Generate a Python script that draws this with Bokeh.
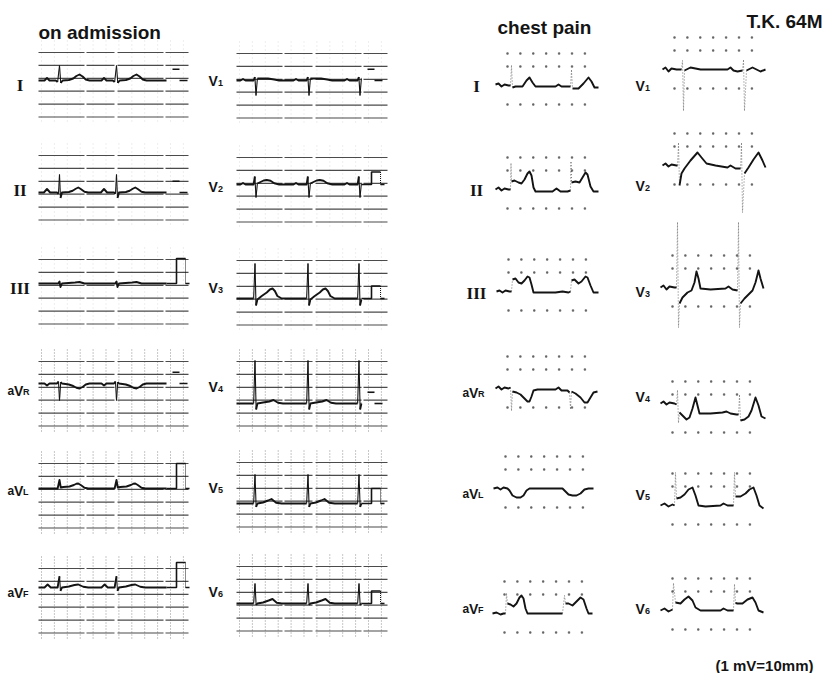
import numpy as np
from bokeh.plotting import figure
from bokeh.models import Range1d
from bokeh.core.properties import value
from bokeh.embed import file_html
from bokeh.resources import INLINE

# ------------------------------------------------------------------ data
TITLE_LEFT = "on admission"
TITLE_RIGHT = "chest pain"
PATIENT = "T.K. 64M"
CAL_NOTE = "(1 mV=10mm)"

LIMB_LEADS = ["I", "II", "III", "aVR", "aVL", "aVF"]
CHEST_LEADS = ["V1", "V2", "V3", "V4", "V5", "V6"]

# On admission: one beat per lead (ms from R peak, mV)
ADM_I_T = [-300, -240, -200, -160, -60, -30, 0, 20, 50, 150, 220, 270, 320, 370, 420, 480]
ADM_I_MV = [0, 0, 0.1, 0, 0, -0.06, 0.6, -0.1, 0, 0.02, 0.08, 0.18, 0.24, 0.16, 0.04, 0]
ADM_II_T = [-300, -250, -200, -150, -40, -16, 0, 16, 40, 150, 210, 260, 300, 340, 400, 460]
ADM_II_MV = [0, 0, 0.14, 0, 0, -0.05, 0.72, -0.22, 0, 0.02, 0.07, 0.15, 0.2, 0.14, 0.03, 0]
ADM_III_T = [-300, -20, 0, 16, 40, 250, 320, 400]
ADM_III_MV = [0, 0, 0.08, -0.14, 0, 0.04, 0.06, 0]
ADM_AVR_T = [-300, -240, -200, -160, -40, -16, 0, 20, 40, 150, 220, 270, 320, 370, 420, 480]
ADM_AVR_MV = [0, 0, -0.08, 0, 0, 0.08, -0.68, 0.06, 0, -0.04, -0.1, -0.17, -0.2, -0.14, -0.04, 0]
ADM_AVL_T = [-300, -30, 0, 20, 60, 160, 230, 270, 300, 340, 400, 460]
ADM_AVL_MV = [0, 0, 0.34, 0.04, 0.06, 0.08, 0.14, 0.19, 0.2, 0.14, 0.03, 0]
ADM_AVF_T = [-300, -240, -190, -140, -30, 0, 16, 40, 150, 240, 300, 380, 460]
ADM_AVF_MV = [0, 0, 0.12, 0, 0, 0.45, -0.14, 0, 0.04, 0.1, 0.12, 0.03, 0]
ADM_V1_T = [-300, -240, -200, -160, -30, -10, 8, 30, 80, 200, 300, 380]
ADM_V1_MV = [0, 0, 0.06, 0, 0, 0.14, -0.6, 0.08, 0.08, 0.08, 0.04, 0]
ADM_V2_T = [-300, -240, -200, -160, -30, -10, 8, 30, 80, 130, 180, 240, 300, 380]
ADM_V2_MV = [0, 0, 0.06, 0, 0, 0.32, -0.52, 0.04, 0.1, 0.16, 0.18, 0.15, 0.05, 0]
ADM_V3_T = [-300, -30, -8, 8, 30, 100, 180, 230, 272, 310, 350, 420]
ADM_V3_MV = [0, 0, 1.4, -0.28, -0.04, 0.1, 0.24, 0.36, 0.4, 0.3, 0.1, 0]
ADM_V4_T = [-300, -30, -8, 10, 30, 120, 220, 288, 360, 440]
ADM_V4_MV = [0, 0, 1.72, -0.24, 0, 0.04, 0.08, 0.14, 0.03, 0]
ADM_V5_T = [-300, -30, -8, 10, 30, 120, 200, 256, 330, 420]
ADM_V5_MV = [0, 0, 1.16, -0.14, 0, 0.04, 0.12, 0.18, 0.03, 0]
ADM_V6_T = [-300, -30, -8, 10, 30, 120, 210, 272, 340, 420]
ADM_V6_MV = [0, 0, 0.8, -0.06, 0, 0.04, 0.12, 0.18, 0.03, 0]

ADM_LIMB_R_MS = [336, 1248]
ADM_CHEST_R_MS = [304, 1152, 1968]
ADM_LIMB_END_MS = 2048
ADM_CHEST_END_MS = 2000
ADM_LIMB_CAL_MV = [0, 0, 1.0, 0, 1.0, 1.0]
ADM_CHEST_CAL_MV = [0, 0.5, 0.5, 0, 0.6, 0.5]

# Chest pain: whole strips (ms from strip start, mV)
PAIN_I_T = [0, 48, 96, 144, 208, 240, 256, 272, 320, 432, 496, 544, 592, 640, 960, 1008, 1056, 1200, 1216, 1232, 1328, 1408, 1488, 1536, 1584, 1648]
PAIN_I_MV = [0.04, 0.08, -0.04, 0.04, 0, 0, 0.8, -0.08, -0.04, -0.04, 0.2, 0.32, 0.12, -0.04, -0.04, 0.04, -0.04, -0.04, 0.6, -0.12, -0.12, 0.08, 0.32, 0.16, -0.08, -0.08]
PAIN_II_T = [0, 48, 96, 144, 208, 240, 248, 256, 304, 368, 416, 464, 512, 544, 576, 608, 640, 800, 912, 976, 1040, 1152, 1200, 1208, 1216, 1280, 1344, 1392, 1440, 1472, 1520, 1568, 1648]
PAIN_II_MV = [0, 0.08, -0.04, 0.04, 0, 0, 1.04, 0.32, 0.36, 0.28, 0.24, 0.4, 0.64, 0.72, 0.56, 0.08, -0.08, -0.08, -0.08, 0.04, -0.08, -0.08, -0.04, 1.1, 0.28, 0.32, 0.28, 0.48, 0.68, 0.6, 0.12, -0.08, -0.08]
PAIN_III_T = [0, 48, 96, 144, 208, 240, 256, 304, 352, 400, 448, 496, 528, 560, 592, 704, 944, 1056, 1152, 1184, 1200, 1248, 1312, 1360, 1424, 1456, 1504, 1552, 1632]
PAIN_III_MV = [0, 0.04, -0.04, 0.04, 0, 0, 0.48, 0.52, 0.36, 0.32, 0.44, 0.6, 0.56, 0.28, -0.04, -0.04, -0.04, 0, -0.04, 0, 0.44, 0.48, 0.32, 0.4, 0.6, 0.56, 0.24, -0.04, -0.04]
PAIN_AVR_T = [0, 48, 96, 144, 208, 240, 256, 272, 336, 400, 464, 512, 544, 576, 608, 672, 960, 1008, 1056, 1152, 1184, 1200, 1216, 1280, 1360, 1424, 1472, 1520, 1568, 1632]
PAIN_AVR_MV = [0, 0.08, -0.04, 0.04, 0, 0.04, -0.88, -0.12, -0.16, -0.24, -0.4, -0.52, -0.52, -0.32, -0.08, -0.04, -0.04, 0.04, -0.08, -0.08, -0.16, -0.8, -0.12, -0.2, -0.36, -0.56, -0.56, -0.36, -0.16, -0.12]
PAIN_AVL_T = [0, 64, 112, 160, 224, 256, 304, 368, 432, 480, 528, 576, 752, 1104, 1152, 1200, 1264, 1328, 1392, 1456, 1520, 1600]
PAIN_AVL_MV = [0, 0.04, -0.04, 0.04, 0, -0.08, -0.28, -0.36, -0.36, -0.28, -0.08, 0, 0, 0, -0.12, -0.24, -0.28, -0.28, -0.2, -0.04, 0, 0]
PAIN_AVF_T = [0, 64, 128, 176, 208, 224, 240, 288, 336, 384, 432, 464, 496, 528, 560, 848, 1120, 1152, 1168, 1216, 1280, 1344, 1408, 1456, 1504, 1536, 1600]
PAIN_AVF_MV = [0, 0.04, -0.04, 0, 0, 0.8, 0.4, 0.36, 0.28, 0.4, 0.64, 0.72, 0.6, 0.2, 0, 0, 0, 0.72, 0.4, 0.4, 0.32, 0.48, 0.64, 0.56, 0.2, 0, 0]
PAIN_V1_T = [0, 48, 96, 144, 224, 304, 320, 336, 352, 448, 608, 1040, 1088, 1136, 1200, 1280, 1296, 1312, 1344, 1440, 1568, 1648]
PAIN_V1_MV = [0, 0.08, -0.08, 0.04, 0, 0, 0.36, -1.64, -0.04, 0.08, 0, 0, 0.08, -0.04, -0.08, -0.04, 0.36, -1.64, -0.04, 0.08, -0.08, 0]
PAIN_V2_T = [0, 48, 96, 144, 224, 240, 256, 272, 304, 352, 448, 560, 624, 704, 848, 1040, 1088, 1168, 1248, 1264, 1280, 1312, 1376, 1456, 1536, 1600, 1648]
PAIN_V2_MV = [0, 0.08, -0.04, 0.04, 0, 0, 0.88, -0.8, -0.32, -0.12, 0.2, 0.52, 0.32, 0.08, 0, -0.08, 0, -0.12, -0.12, 0.88, -1.88, -0.32, -0.08, 0.24, 0.52, 0.2, -0.08]
PAIN_V3_T = [0, 48, 96, 144, 224, 256, 272, 288, 304, 352, 432, 496, 544, 576, 608, 640, 800, 1040, 1088, 1152, 1232, 1248, 1264, 1280, 1344, 1408, 1472, 1520, 1568, 1600, 1648]
PAIN_V3_MV = [0, 0.08, -0.08, 0.04, 0, 0, 2.6, -1.6, -0.64, -0.4, -0.2, -0.12, 0.2, 0.64, 0.36, -0.04, -0.08, -0.04, 0.04, -0.08, -0.12, 2.6, -1.6, -0.64, -0.44, -0.28, -0.12, 0.2, 0.68, 0.36, -0.04]
PAIN_V4_T = [0, 48, 96, 144, 224, 256, 272, 288, 304, 352, 416, 464, 512, 560, 592, 624, 800, 992, 1056, 1120, 1216, 1248, 1264, 1280, 1344, 1408, 1456, 1520, 1568, 1616, 1680]
PAIN_V4_MV = [0.4, 0.48, 0.36, 0.44, 0.4, 0.36, 0.92, -0.36, 0.04, -0.08, -0.24, -0.16, 0.2, 0.64, 0.32, 0, 0, 0.04, 0.08, 0, -0.04, -0.04, 0.72, -0.28, -0.24, -0.12, 0.12, 0.64, 0.32, -0.12, -0.2]
PAIN_V5_T = [0, 64, 128, 192, 224, 240, 256, 320, 384, 448, 512, 560, 608, 720, 960, 1008, 1072, 1168, 1184, 1200, 1280, 1360, 1424, 1488, 1536, 1584, 1648]
PAIN_V5_MV = [0, 0.08, -0.04, 0.04, 0, 1.32, 0.28, 0.32, 0.44, 0.64, 0.72, 0.4, 0, -0.04, 0, 0.08, 0, 0, 1.32, 0.36, 0.36, 0.48, 0.64, 0.72, 0.4, 0, -0.12]
PAIN_V6_T = [0, 64, 128, 192, 208, 240, 320, 384, 448, 512, 560, 640, 960, 1008, 1072, 1168, 1184, 1200, 1232, 1312, 1392, 1472, 1520, 1568, 1648]
PAIN_V6_MV = [0, 0.08, -0.04, 0.04, 1.08, 0.32, 0.28, 0.44, 0.56, 0.4, 0.12, 0, 0, 0.08, 0, 0, 1.04, 0.3, 0.28, 0.28, 0.44, 0.52, 0.32, 0, -0.08]

ADM_LIMB = [(ADM_I_T, ADM_I_MV), (ADM_II_T, ADM_II_MV), (ADM_III_T, ADM_III_MV),
            (ADM_AVR_T, ADM_AVR_MV), (ADM_AVL_T, ADM_AVL_MV), (ADM_AVF_T, ADM_AVF_MV)]
ADM_CHEST = [(ADM_V1_T, ADM_V1_MV), (ADM_V2_T, ADM_V2_MV), (ADM_V3_T, ADM_V3_MV),
             (ADM_V4_T, ADM_V4_MV), (ADM_V5_T, ADM_V5_MV), (ADM_V6_T, ADM_V6_MV)]
PAIN_LIMB = [(PAIN_I_T, PAIN_I_MV), (PAIN_II_T, PAIN_II_MV), (PAIN_III_T, PAIN_III_MV),
             (PAIN_AVR_T, PAIN_AVR_MV), (PAIN_AVL_T, PAIN_AVL_MV), (PAIN_AVF_T, PAIN_AVF_MV)]
PAIN_CHEST = [(PAIN_V1_T, PAIN_V1_MV), (PAIN_V2_T, PAIN_V2_MV), (PAIN_V3_T, PAIN_V3_MV),
              (PAIN_V4_T, PAIN_V4_MV), (PAIN_V5_T, PAIN_V5_MV), (PAIN_V6_T, PAIN_V6_MV)]

# ------------------------------------------------------------------ layout
PX_PER_MS = 1 / 16.0
PX_PER_MV = 25.0
GRID_STEP = 12.9

ADM_LIMB_X0, ADM_LIMB_GX1 = 38, 188
ADM_CHEST_X0, ADM_CHEST_GX1 = 236, 387
ADM_LIMB_BASE = [80, 192, 283, 383, 488, 587]
ADM_LIMB_GTOP = [52, 155, 259, 361, 463, 568]
ADM_CHEST_BASE = [80, 184, 298, 403, 503, 603]
ADM_CHEST_GTOP = [53, 157, 260, 361, 462, 566]
ADM_DENSE_LIMB = [False, False, False, True, True, True]
ADM_DENSE_CHEST = [False, False, False, True, True, True]

PAIN_LIMB_X0 = [495, 495, 496, 495, 493, 492]
PAIN_LIMB_BASE = [85, 189, 291, 388, 488, 613]
PAIN_CHEST_X0 = [662, 662, 660, 660, 660, 660]
PAIN_CHEST_BASE = [69, 165, 287, 413, 505, 610]

INK = "#141414"

p = figure(width=829, height=673, x_range=Range1d(0, 829), y_range=Range1d(673, 0),
           output_backend="svg", toolbar_location=None, min_border=0,
           x_axis_location=None, y_axis_location=None)
p.grid.visible = False
p.outline_line_color = None
p.background_fill_color = "white"
p.border_fill_color = "white"

normal = ([], [])
steep_adm = ([], [])
steep_pain = ([], [])


def add_trace(x, y, pain):
    cx, cy = [x[0]], [y[0]]
    for i in range(1, len(x)):
        dx = max(x[i] - x[i - 1], 1e-6)
        dy = y[i] - y[i - 1]
        if abs(dy) > 6 and abs(dy) / dx > 7:
            if len(cx) > 1:
                normal[0].append(cx)
                normal[1].append(cy)
            tgt = steep_pain if pain else steep_adm
            tgt[0].append([x[i - 1], x[i]])
            tgt[1].append([y[i - 1], y[i]])
            cx, cy = [x[i]], [y[i]]
        else:
            cx.append(x[i])
            cy.append(y[i])
    if len(cx) > 1:
        normal[0].append(cx)
        normal[1].append(cy)


def build_adm(tt, vv, r_times, end):
    T, V = [], []
    for r in r_times:
        T += [r + t for t in tt]
        V += list(vv)
    T = np.array(T, float)
    V = np.array(V, float)
    o = np.argsort(T, kind="stable")
    T, V = T[o], V[o]
    keep = (T > 0) & (T < end)
    Tk = np.concatenate([[0.0], T[keep], [float(end)]])
    Vk = np.concatenate([[np.interp(0, T, V, left=0.0)], V[keep],
                         [np.interp(end, T, V, right=0.0)]])
    return Tk, Vk


grid_h = ([], [])
vdots_dense = ([], [])
vdots_sparse = ([], [])
cal_lines = ([], [])
cal_fall = ([], [])


def adm_column(templates, r_times, end, x0, gx1, bases, gtops, dense, cals):
    for (tt, vv), base, gtop, dn, cal in zip(templates, bases, gtops, dense, cals):
        T, V = build_adm(tt, vv, r_times, end)
        x = list(x0 + T * PX_PER_MS)
        y = list(base - V * PX_PER_MV)
        add_trace(x, y, False)
        for k in range(6):
            gy = gtop + k * GRID_STEP
            grid_h[0].append([x0, gx1])
            grid_h[1].append([gy, gy])
        tgt = vdots_dense if dn else vdots_sparse
        gx = x0 + 3
        while gx < gx1 - 2:
            tgt[0].append([gx, gx])
            tgt[1].append([gtop - 12, gtop + 5 * GRID_STEP + 6])
            gx += GRID_STEP
        xe = x0 + end * PX_PER_MS
        if cal > 0:
            top = base - cal * PX_PER_MV
            cal_lines[0].append([xe, xe + 10, xe + 10, xe + 19])
            cal_lines[1].append([base, base, top, top])
            cal_fall[0].append([xe + 19, xe + 19])
            cal_fall[1].append([top, base])
            cal_lines[0].append([xe + 19, xe + 23])
            cal_lines[1].append([base, base])
        else:
            up = base - 0.45 * PX_PER_MV
            cal_lines[0].append([xe + 6, xe + 13])
            cal_lines[1].append([up, up])
            cal_lines[0].append([xe + 13, xe + 21])
            cal_lines[1].append([base, base])


adm_column(ADM_LIMB, ADM_LIMB_R_MS, ADM_LIMB_END_MS, ADM_LIMB_X0, ADM_LIMB_GX1,
           ADM_LIMB_BASE, ADM_LIMB_GTOP, ADM_DENSE_LIMB, ADM_LIMB_CAL_MV)
adm_column(ADM_CHEST, ADM_CHEST_R_MS, ADM_CHEST_END_MS, ADM_CHEST_X0, ADM_CHEST_GX1,
           ADM_CHEST_BASE, ADM_CHEST_GTOP, ADM_DENSE_CHEST, ADM_CHEST_CAL_MV)

dots = ([], [])
for strips, x0s, bases in ((PAIN_LIMB, PAIN_LIMB_X0, PAIN_LIMB_BASE),
                           (PAIN_CHEST, PAIN_CHEST_X0, PAIN_CHEST_BASE)):
    for (tt, vv), x0, base in zip(strips, x0s, bases):
        x = [x0 + t * PX_PER_MS for t in tt]
        y = [base - v * PX_PER_MV for v in vv]
        add_trace(x, y, True)
        for off in (-32, -19, 19):
            for k in range(7):
                dots[0].append(x0 + 12 + k * GRID_STEP)
                dots[1].append(base + off)

# grids
p.multi_line(grid_h[0], grid_h[1], line_color="#2b2b2b", line_width=1.2, line_alpha=0.85,
             line_dash="46 2 28 3")
p.multi_line(vdots_dense[0], vdots_dense[1], line_color="#444444", line_width=1,
             line_alpha=0.6, line_dash="1 2")
p.multi_line(vdots_sparse[0], vdots_sparse[1], line_color="#444444", line_width=1,
             line_alpha=0.18, line_dash="1 3")
p.scatter(dots[0], dots[1], marker="square", size=1.5, color="#333333", alpha=0.55)

# traces
p.multi_line(normal[0], normal[1], line_color=INK, line_width=1.9, line_join="round")
p.multi_line(steep_adm[0], steep_adm[1], line_color=INK, line_width=1.1)
p.multi_line(steep_pain[0], steep_pain[1], line_color="#333333", line_width=1.0,
             line_dash="1 2", line_alpha=0.7)
p.multi_line(cal_lines[0], cal_lines[1], line_color=INK, line_width=1.6)
p.multi_line(cal_fall[0], cal_fall[1], line_color=INK, line_width=1, line_dash="1 1")

# ------------------------------------------------------------------ texts
SANS = value("Liberation Sans")
SERIF = value("Liberation Serif")

p.text(x=[38, 497], y=[32, 27], text=[TITLE_LEFT, TITLE_RIGHT], text_font=SANS,
       text_font_style="bold", text_font_size="19px", text_color=INK, text_baseline="alphabetic")
p.text(x=[746], y=[21], text=[PATIENT], text_font=SANS, text_font_style="bold",
       text_font_size="19px", text_color=INK, text_baseline="alphabetic")
p.text(x=[715], y=[665], text=[CAL_NOTE], text_font=SANS, text_font_style="bold",
       text_font_size="15px", text_color=INK, text_baseline="alphabetic")

ADM_LIMB_LABEL_Y = [85, 190, 288, 390, 490, 592]
PAIN_LIMB_LABEL_Y = [86, 190, 293, 392, 493, 608]
ADM_CHEST_LABEL_Y = [80, 186, 287, 386, 487, 591]
PAIN_CHEST_LABEL_Y = [85, 185, 291, 396, 494, 608]

roman = ([], [], [])
a_small = ([], [], [])
v_big = ([], [], [])
subs = ([], [], [])


def place_labels(leads, ys, roman_cx, av_x0, v_x0):
    for lead, yb in zip(leads, ys):
        if lead.startswith("aV"):
            a_small[0].append(av_x0); a_small[1].append(yb); a_small[2].append("a")
            v_big[0].append(av_x0 + 6.5); v_big[1].append(yb); v_big[2].append("V")
            subs[0].append(av_x0 + 15.5); subs[1].append(yb + 1.5); subs[2].append(lead[2:])
        elif lead.startswith("V"):
            v_big[0].append(v_x0); v_big[1].append(yb); v_big[2].append("V")
            subs[0].append(v_x0 + 9.5); subs[1].append(yb + 2.5); subs[2].append(lead[1:])
        else:
            roman[0].append(roman_cx); roman[1].append(yb); roman[2].append(lead)


place_labels(LIMB_LEADS, ADM_LIMB_LABEL_Y, 19.5, 7, 208)
place_labels(LIMB_LEADS, PAIN_LIMB_LABEL_Y, 476, 462, 636)
place_labels(CHEST_LEADS, ADM_CHEST_LABEL_Y, 19.5, 7, 208)
place_labels(CHEST_LEADS, PAIN_CHEST_LABEL_Y, 476, 462, 635)

p.text(x=roman[0], y=roman[1], text=roman[2], text_font=SERIF, text_font_style="bold",
       text_font_size="17px", text_align="center", text_color=INK, text_baseline="alphabetic")
p.text(x=a_small[0], y=a_small[1], text=a_small[2], text_font=SANS, text_font_style="bold",
       text_font_size="12px", text_color=INK, text_baseline="alphabetic")
p.text(x=v_big[0], y=v_big[1], text=v_big[2], text_font=SANS, text_font_style="bold",
       text_font_size="14px", text_color=INK, text_baseline="alphabetic")
p.text(x=subs[0], y=subs[1], text=subs[2], text_font=SANS, text_font_style="bold",
       text_font_size="9px", text_color=INK, text_baseline="alphabetic")

open("out.html", "w").write(file_html(p, INLINE))
